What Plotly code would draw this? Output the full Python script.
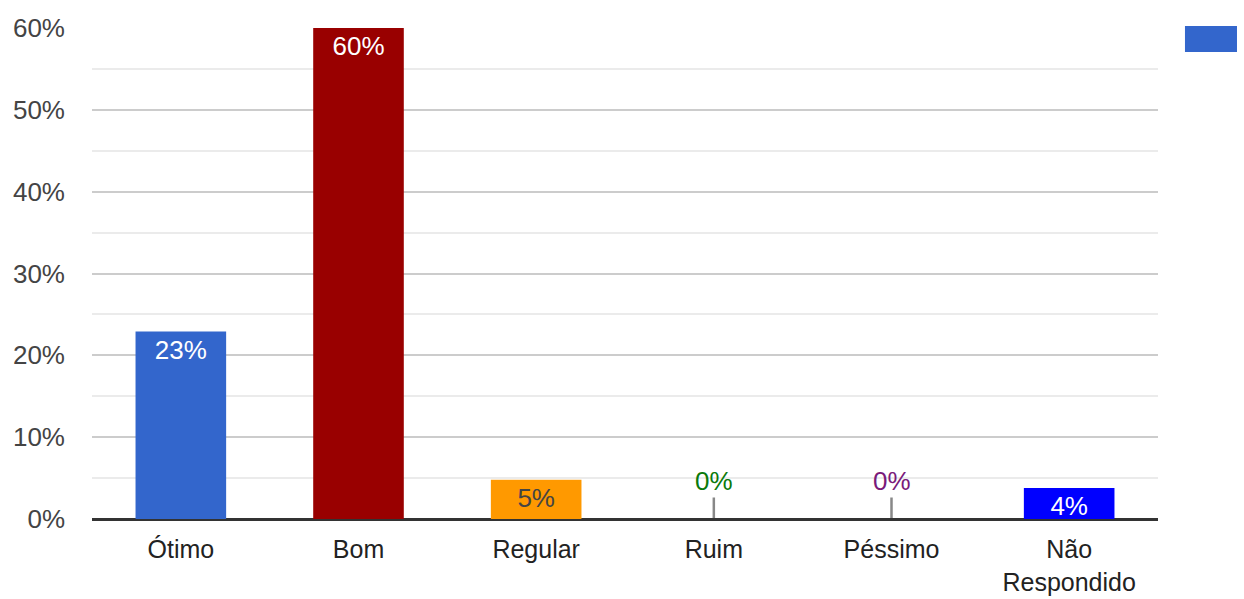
import plotly.graph_objects as go

# Survey answers and their shares (percent)
categories = ["Ótimo", "Bom", "Regular", "Ruim", "Péssimo", "Não<br>Respondido"]
shares = [22.9, 60.0, 4.8, 0.0, 0.0, 3.8]
bar_colors = ["#3366cc", "#990000", "#ff9900", "#109618", "#990099", "#0000ff"]
label_colors = ["#ffffff", "#ffffff", "#444444", "#0b7a0b", "#7a1a7a", "#ffffff"]
y_ticks = [0, 10, 20, 30, 40, 50, 60]
y_tick_labels = [f"{v}%" for v in y_ticks]

FONT = "Liberation Sans, Arial, sans-serif"
FS = 26

nonzero = [v > 0 for v in shares]
fig = go.Figure()
fig.add_trace(go.Bar(
    x=categories,
    y=shares,
    marker=dict(color=bar_colors, line=dict(width=0)),
    text=[f"{v:.0f}%" if nz else "" for v, nz in zip(shares, nonzero)],
    textposition="inside",
    insidetextanchor="end",
    textangle=0,
    constraintext="none",
    insidetextfont=dict(family=FONT, size=FS, color=label_colors),
    cliponaxis=False,
    hoverinfo="skip",
    showlegend=False,
))

# Zero-valued answers get a label lifted above the baseline with a leader line
for cat, v, col, nz in zip(categories, shares, label_colors, nonzero):
    if not nz:
        fig.add_annotation(
            x=cat, y=v, xref="x", yref="y",
            text=f"{v:.0f}%",
            font=dict(family=FONT, size=FS, color=col),
            showarrow=True, arrowhead=0, arrowwidth=2.5, arrowcolor="#888888",
            ax=0, ay=-38, standoff=1,
        )

# Minor gridlines at the half steps
minor_vals = [5, 15, 25, 35, 45, 55]

fig.update_layout(
    width=1244, height=599,
    margin=dict(l=92, r=86, t=28, b=80),
    paper_bgcolor="#ffffff",
    plot_bgcolor="#ffffff",
    bargap=0.49,
    font=dict(family=FONT, size=FS, color="#222222"),
    xaxis=dict(
        range=[-0.5, 5.5],
        automargin=False,
        showgrid=False,
        showline=False,
        ticks="",
        tickfont=dict(family=FONT, size=25, color="#222222"),
        ticklabelstandoff=13,
        fixedrange=True,
    ),
    yaxis=dict(
        range=[0, 60],
        automargin=False,
        tickvals=y_ticks,
        ticktext=y_tick_labels,
        showgrid=True,
        gridcolor="#cccccc",
        gridwidth=2,
        zeroline=True,
        zerolinecolor="#333333",
        zerolinewidth=3,
        showline=False,
        ticks="",
        ticklabelstandoff=26,
        tickfont=dict(family=FONT, size=FS, color="#444444"),
        minor=dict(tickvals=minor_vals, showgrid=True, gridcolor="#ebebeb", gridwidth=2),
        fixedrange=True,
    ),
)

# Legend swatch of the series (no text)
fig.add_shape(
    type="rect", xref="paper", yref="paper",
    x0=1.0253, x1=1.0741, y0=0.951, y1=1.004,
    fillcolor="#3366cc", line=dict(width=0),
)

fig.write_html("out.html", config={"displayModeBar": False})
